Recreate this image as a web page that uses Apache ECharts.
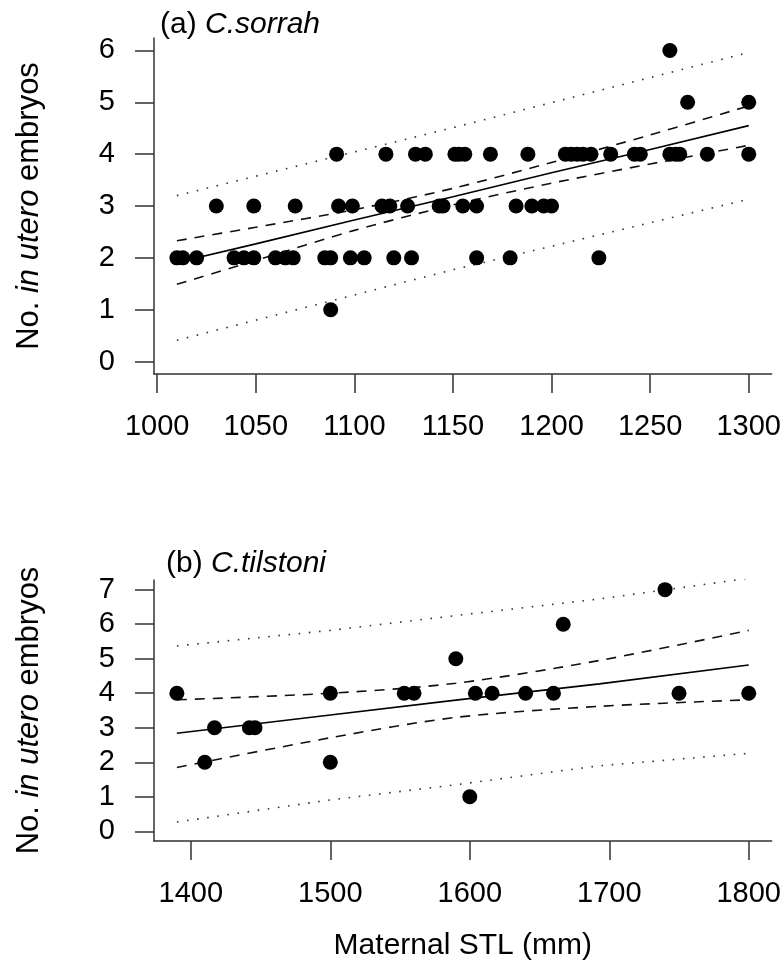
<!DOCTYPE html>
<html>
<head>
<meta charset="utf-8">
<script src="https://cdn.jsdelivr.net/npm/echarts@6/dist/echarts.min.js"></script>
<style>html,body{margin:0;padding:0;background:#fff}#c{width:784px;height:966px}</style>
</head>
<body>
<div id="c"></div>
<script>
// ---- Panel (a) C. sorrah ----
const sorrahSTL = [1010,1013,1020,1039,1044,1049,1060,1065,1069,1085,1088,1098,1105,1120,1129,1162,1179,1224,
  1030,1049,1070,1092,1099,1114,1118,1127,1143,1145,1155,1162,1182,1190,1196,1200,
  1091,1116,1131,1136,1151,1153,1156,1169,1188,1207,1210,1213,1216,1220,1230,1242,1245,1260,1263,1265,1279,1300,
  1269,1300,1260,1088];
const sorrahEmbryos = [2,2,2,2,2,2,2,2,2,2,2,2,2,2,2,2,2,2,
  3,3,3,3,3,3,3,3,3,3,3,3,3,3,3,3,
  4,4,4,4,4,4,4,4,4,4,4,4,4,4,4,4,4,4,4,4,4,4,
  5,5,6,1];
const sorrahLineX = [1010,1050,1100,1150,1200,1250,1300];
const sorrahFit   = [1.91,2.27,2.73,3.18,3.64,4.09,4.55];
const sorrahCIup  = [2.33,2.59,2.93,3.34,3.84,4.37,4.93];
const sorrahCIlo  = [1.49,1.95,2.53,3.02,3.44,3.81,4.17];
const sorrahPIx   = [1010,1150,1300];
const sorrahPIup  = [3.20,4.51,5.96];
const sorrahPIlo  = [0.41,1.77,3.13];
const sorrahXTicks = [1000,1050,1100,1150,1200,1250,1300];
const sorrahYTicks = [0,1,2,3,4,5,6];

// ---- Panel (b) C. tilstoni ----
const tilstoniSTL = [1390,1410,1417,1442,1446,1500,1500,1553,1560,1590,1600,1604,1616,1640,1660,1667,1740,1750,1800];
const tilstoniEmbryos = [4,2,3,3,3,4,2,4,4,5,1,4,4,4,4,6,7,4,4];
const tilstoniLineX = [1390,1500,1590,1693,1800];
const tilstoniFit   = [2.84,3.37,3.80,4.27,4.82];
const tilstoniCIup  = [3.81,4.00,4.29,4.95,5.82];
const tilstoniCIlo  = [1.85,2.71,3.30,3.62,3.81];
const tilstoniPIup  = [5.37,5.82,6.25,6.73,7.33];
const tilstoniPIlo  = [0.27,0.91,1.35,1.90,2.26];
const tilstoniXTicks = [1400,1500,1600,1700,1800];
const tilstoniYTicks = [0,1,2,3,4,5,6,7];

const FONT = 'Liberation Sans, Arial, sans-serif';
const zip = (xs, ys) => xs.map((x, i) => [x, ys[i]]);
const axisCol = '#333';
const plain = v => String(v);

function xAxisCfg(idx, min, max, ticks, name) {
  return {
    type: 'value', gridIndex: idx, min: min, max: max,
    axisLine: {show: true, onZero: false, lineStyle: {color: axisCol, width: 1.5}},
    axisTick: {show: true, length: 19, customValues: ticks, lineStyle: {color: axisCol, width: 1.5}},
    axisLabel: {customValues: ticks, formatter: plain, margin: 38, fontSize: 29, color: '#000', fontFamily: FONT},
    splitLine: {show: false},
    name: name || '', nameLocation: 'middle', nameGap: 90,
    nameTextStyle: {fontSize: 30, color: '#000', fontFamily: FONT}
  };
}
function yAxisCfg(idx, min, max, ticks) {
  return {
    type: 'value', gridIndex: idx, min: min, max: max,
    axisLine: {show: true, onZero: false, lineStyle: {color: axisCol, width: 1.5}},
    axisTick: {show: true, length: 19, customValues: ticks, lineStyle: {color: axisCol, width: 1.5}},
    axisLabel: {customValues: ticks, formatter: plain, margin: 39, fontSize: 29, color: '#000', fontFamily: FONT},
    splitLine: {show: false},
    name: '{n|No. }{i|in utero}{n| embryos}', nameLocation: 'middle', nameRotate: 90, nameGap: 109,
    nameTextStyle: {
      rich: {
        n: {fontSize: 31, color: '#000', fontFamily: FONT},
        i: {fontSize: 31, color: '#000', fontFamily: FONT, fontStyle: 'italic'}
      }
    }
  };
}
function lines(idx, xs, fit, ciU, ciL, pxs, piU, piL) {
  const base = {type: 'line', xAxisIndex: idx, yAxisIndex: idx, showSymbol: false, symbol: 'none', silent: true, z: 1};
  return [
    Object.assign({}, base, {data: zip(xs, fit), lineStyle: {color: '#000', width: 1.6, type: 'solid'}}),
    Object.assign({}, base, {data: zip(xs, ciU), smooth: 0.3, lineStyle: {color: '#111', width: 1.6, type: [10, 8]}}),
    Object.assign({}, base, {data: zip(xs, ciL), smooth: 0.3, lineStyle: {color: '#111', width: 1.6, type: [10, 8]}}),
    Object.assign({}, base, {data: zip(pxs, piU), lineStyle: {color: '#333', width: 1.6, type: [1.6, 8.6]}}),
    Object.assign({}, base, {data: zip(pxs, piL), lineStyle: {color: '#333', width: 1.6, type: [1.6, 8.6]}})
  ];
}
const titleRich = {
  n: {fontSize: 30, color: '#000', fontFamily: FONT, fontWeight: 'normal'},
  i: {fontSize: 30, color: '#000', fontFamily: FONT, fontStyle: 'italic', fontWeight: 'normal'}
};

const chart = echarts.init(document.getElementById('c'), null, {renderer: 'canvas'});
chart.setOption({
  animation: false,
  backgroundColor: '#fff',
  title: [
    {text: '{n|(a) }{i|C.sorrah}', left: 155, top: 5, textStyle: {fontWeight: 'normal', rich: titleRich}},
    {text: '{n|(b) }{i|C.tilstoni}', left: 161, top: 544, textStyle: {fontWeight: 'normal', rich: titleRich}}
  ],
  grid: [
    {left: 154, top: 38, width: 618, height: 336},
    {left: 154, top: 580, width: 618, height: 261}
  ],
  xAxis: [
    xAxisCfg(0, 998.4, 1311.6, sorrahXTicks),
    xAxisCfg(1, 1373.6, 1816.4, tilstoniXTicks, 'Maternal STL (mm)')
  ],
  yAxis: [
    yAxisCfg(0, -0.24, 6.24, sorrahYTicks),
    yAxisCfg(1, -0.28, 7.28, tilstoniYTicks)
  ],
  series: [
    ...lines(0, sorrahLineX, sorrahFit, sorrahCIup, sorrahCIlo, sorrahPIx, sorrahPIup, sorrahPIlo),
    {type: 'scatter', xAxisIndex: 0, yAxisIndex: 0, data: zip(sorrahSTL, sorrahEmbryos),
     symbol: 'circle', symbolSize: 15, itemStyle: {color: '#000', opacity: 1}, z: 3},
    ...lines(1, tilstoniLineX, tilstoniFit, tilstoniCIup, tilstoniCIlo, tilstoniLineX, tilstoniPIup, tilstoniPIlo),
    {type: 'scatter', xAxisIndex: 1, yAxisIndex: 1, data: zip(tilstoniSTL, tilstoniEmbryos),
     symbol: 'circle', symbolSize: 15, itemStyle: {color: '#000', opacity: 1}, z: 3}
  ]
});
</script>
</body>
</html>
